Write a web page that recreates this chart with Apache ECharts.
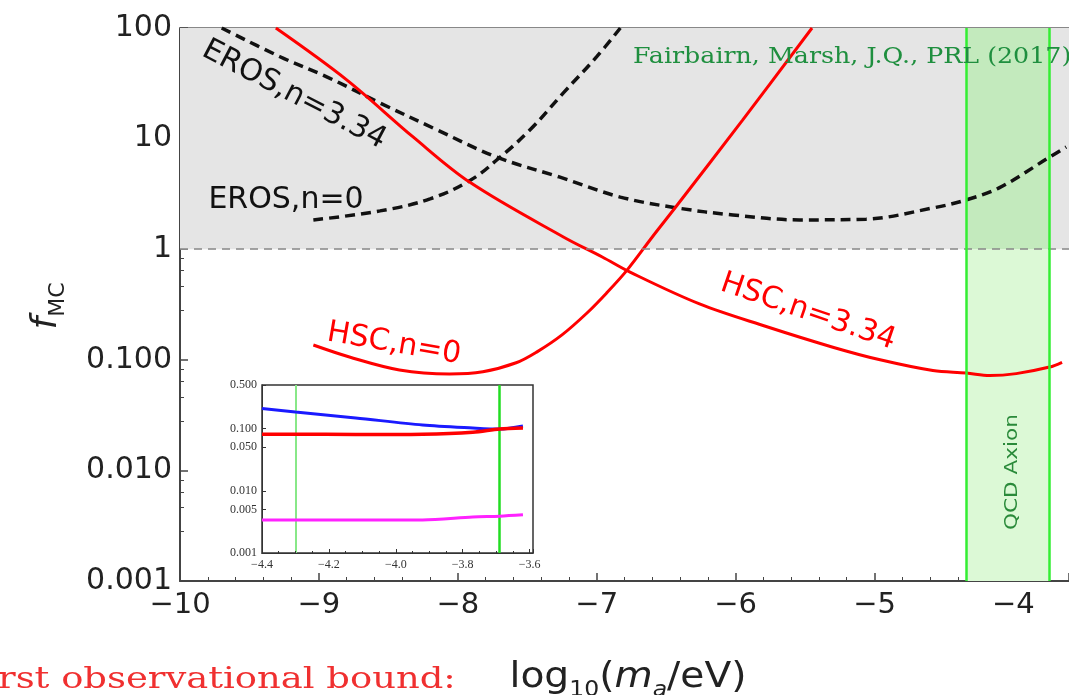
<!DOCTYPE html>
<html><head><meta charset="utf-8">
<script src="https://cdn.jsdelivr.net/npm/echarts@6/dist/echarts.min.js"></script>
<style>html,body{margin:0;padding:0;background:#fff}#c{width:1069px;height:695px}</style>
</head><body><div id="c"></div>
<script>
// ---- main panel data (log10 m_a [eV], f_MC) ----
const erosN334X = [-9.7, -9.28, -8.94, -8.56, -8.15, -7.72, -7.27, -6.83, -6.42, -6.02, -5.54, -5.06, -4.58, -4.34, -4.1, -3.74, -3.62];
const erosN334Y = [100, 55, 36, 21, 12, 6.8, 4.5, 2.96, 2.36, 2.04, 1.84, 1.87, 2.36, 2.79, 3.6, 6.8, 8.4];
const erosN0X = [-9.04, -8.56, -8.2, -7.91, -7.72, -7.48, -7.24, -7.0, -6.83];
const erosN0Y = [1.84, 2.22, 2.85, 4.2, 6.4, 12, 25.9, 55, 100];
const hscN334X = [-9.31, -8.8, -8.32, -7.91, -7.24, -6.96, -6.76, -6.26, -5.78, -5.3, -4.96, -4.58, -4.34, -4.17, -3.98, -3.74, -3.65];
const hscN334Y = [100, 34, 10.3, 4.0, 1.29, 0.85, 0.62, 0.32, 0.2, 0.13, 0.1, 0.08, 0.076, 0.072, 0.075, 0.086, 0.095];
const hscN0X = [-9.04, -8.78, -8.42, -8.06, -7.82, -7.58, -7.43, -7.25, -7.07, -6.93, -6.78, -6.6, -6.43, -5.95, -5.45];
const hscN0Y = [0.136, 0.106, 0.081, 0.0745, 0.078, 0.094, 0.118, 0.168, 0.265, 0.40, 0.65, 1.29, 2.42, 14.7, 100];
const qcdBand = [-4.34, -3.74];
const excludedRange = [1, 100];
// ---- inset data ----
const insetX = [-4.4, -4.3, -4.12, -3.92, -3.77, -3.69, -3.62];
const insetBlue = [0.21, 0.184, 0.148, 0.114, 0.102, 0.098, 0.11];
const insetRed = [0.081, 0.081, 0.08, 0.081, 0.087, 0.098, 0.102];
const insetMagenta = [0.0034, 0.0034, 0.0034, 0.0034, 0.0038, 0.0039, 0.0041];
const insetLines = [-4.3, -3.69];
const insetYTicks = [0.001, 0.005, 0.01, 0.05, 0.1, 0.5];

const zip = (xs, ys) => xs.map((x, i) => [x, ys[i]]);
const minus = v => (v < 0 ? '\u2212' + Math.abs(v) : String(v));
const fmtY = v => (v >= 1 ? String(Math.round(v)) : v.toFixed(3));

const chart = echarts.init(document.getElementById('c'), null, {renderer: 'canvas'});
const axisCol = '#444';
const labelFont = '30px "DejaVu Sans"';
const option = {
  animation: false,
  grid: [
    {left: 180, top: 28, width: 890, height: 553},
    {left: 262, top: 385, width: 271, height: 168, show: true, backgroundColor: '#fff', borderColor: '#333', borderWidth: 1.5, z: 5}
  ],
  xAxis: [
    {type: 'value', gridIndex: 0, min: -10, max: -3.6, interval: 1, position: 'bottom',
     axisLine: {lineStyle: {color: axisCol, width: 2}},
     axisTick: {inside: true, length: 8, lineStyle: {color: axisCol, width: 1.5}},
     minorTick: {show: true, splitNumber: 5, length: 4, lineStyle: {color: axisCol}},
     axisLabel: {showMaxLabel: false, formatter: minus, fontFamily: 'DejaVu Sans', fontSize: 29, color: '#222', margin: 10},
     splitLine: {show: false}},
    {type: 'value', gridIndex: 0, min: -10, max: -3.6, interval: 1, position: 'top',
     axisLine: {lineStyle: {color: '#888', width: 2}},
     axisTick: {inside: true, length: 6, lineStyle: {color: axisCol, width: 1.5}},
     minorTick: {show: true, splitNumber: 5, length: 4, lineStyle: {color: axisCol}},
     axisLabel: {show: false}, splitLine: {show: false}},
    {type: 'value', gridIndex: 1, min: -4.4, max: -3.59, interval: 0.2,
     axisLine: {lineStyle: {color: '#333'}},
     axisTick: {inside: true, length: 4, lineStyle: {color: '#333'}},
     minorTick: {show: true, splitNumber: 4, length: 2, lineStyle: {color: '#333'}},
     axisLabel: {showMaxLabel: false, hideOverlap: false, formatter: v => '\u2212' + Math.abs(v).toFixed(1), fontFamily: 'Liberation Serif', fontSize: 12, color: '#333', margin: 6},
     splitLine: {show: false}, z: 6}
  ],
  yAxis: [
    {type: 'log', gridIndex: 0, min: 0.001, max: 100, logBase: 10,
     axisLine: {show: true, lineStyle: {color: axisCol, width: 2}},
     axisTick: {inside: true, length: 8, lineStyle: {color: axisCol, width: 1.5}},
     minorTick: {show: true, splitNumber: 5, length: 4, lineStyle: {color: axisCol}},
     axisLabel: {formatter: fmtY, fontFamily: 'DejaVu Sans', fontSize: 30, color: '#222', margin: 8},
     splitLine: {show: false}},
    {type: 'log', gridIndex: 1, min: 0.001, max: 0.5, logBase: 10,
     axisLine: {show: true, lineStyle: {color: '#333'}},
     axisTick: {inside: true, length: 4, lineStyle: {color: '#333'}, customValues: insetYTicks},
     axisLabel: {formatter: fmtY, fontFamily: 'Liberation Serif', fontSize: 12, color: '#333', margin: 5, customValues: insetYTicks},
     splitLine: {show: false}, z: 6}
  ],
  series: [
    {type: 'line', name: 'bands', xAxisIndex: 0, yAxisIndex: 0, data: [], z: 1, silent: true,
     markArea: {silent: true, data: [
       [{xAxis: -10, yAxis: excludedRange[0], itemStyle: {color: '#e5e5e5'}}, {xAxis: -3.6, yAxis: excludedRange[1]}],
       [{xAxis: qcdBand[0], yAxis: excludedRange[0], itemStyle: {color: '#c3eabd'}}, {xAxis: qcdBand[1], yAxis: excludedRange[1]}],
       [{xAxis: qcdBand[0], yAxis: 0.001, itemStyle: {color: '#dcf9d6'}}, {xAxis: qcdBand[1], yAxis: excludedRange[0]}]
     ]},
     markLine: {silent: true, symbol: 'none', label: {show: false}, data: [
       {yAxis: 1, lineStyle: {color: '#888', type: [8, 6], width: 1.5}},
       {xAxis: qcdBand[0], lineStyle: {color: '#33ee33', type: 'solid', width: 2.5}},
       {xAxis: qcdBand[1], lineStyle: {color: '#33ee33', type: 'solid', width: 2.5}}
     ]}},
    {type: 'line', name: 'EROS,n=3.34', xAxisIndex: 0, yAxisIndex: 0, data: zip(erosN334X, erosN334Y), smooth: 0.35, showSymbol: false, z: 3,
     lineStyle: {color: '#111', width: 3.5, type: [10, 6]}},
    {type: 'line', name: 'EROS,n=0', xAxisIndex: 0, yAxisIndex: 0, data: zip(erosN0X, erosN0Y), smooth: 0.4, showSymbol: false, z: 3,
     lineStyle: {color: '#111', width: 3.5, type: [10, 6]}},
    {type: 'line', name: 'HSC,n=3.34', xAxisIndex: 0, yAxisIndex: 0, data: zip(hscN334X, hscN334Y), smooth: 0.35, showSymbol: false, z: 4,
     lineStyle: {color: '#ff0000', width: 3}},
    {type: 'line', name: 'HSC,n=0', xAxisIndex: 0, yAxisIndex: 0, data: zip(hscN0X, hscN0Y), smooth: 0.35, showSymbol: false, z: 4,
     lineStyle: {color: '#ff0000', width: 3}},
    // inset
    {type: 'line', name: 'insetGreen', xAxisIndex: 2, yAxisIndex: 1, data: [], z: 6, silent: true,
     markLine: {silent: true, symbol: 'none', label: {show: false}, data: [
       {xAxis: insetLines[0], lineStyle: {color: '#88e888', type: 'solid', width: 2}},
       {xAxis: insetLines[1], lineStyle: {color: '#22dd22', type: 'solid', width: 2.5}}
     ]}},
    {type: 'line', name: 'insetBlue', xAxisIndex: 2, yAxisIndex: 1, data: zip(insetX, insetBlue), smooth: 0.3, showSymbol: false, z: 7,
     lineStyle: {color: '#1a1aff', width: 3}},
    {type: 'line', name: 'insetRed', xAxisIndex: 2, yAxisIndex: 1, data: zip(insetX, insetRed), smooth: 0.3, showSymbol: false, z: 7,
     lineStyle: {color: '#ff0000', width: 3.5}},
    {type: 'line', name: 'insetMagenta', xAxisIndex: 2, yAxisIndex: 1, data: zip(insetX, insetMagenta), smooth: 0.3, showSymbol: false, z: 7,
     lineStyle: {color: '#ff22ff', width: 3}}
  ],
  graphic: [
    {type: 'text', x: 294, y: 95, rotation: -0.48, style: {text: 'EROS,n=3.34', font: labelFont, fill: '#111', align: 'center', verticalAlign: 'middle'}, z: 10},
    {type: 'text', x: 286, y: 200, style: {text: 'EROS,n=0', font: labelFont, fill: '#111', align: 'center', verticalAlign: 'middle'}, z: 10},
    {type: 'text', x: 394, y: 344, rotation: -0.17, style: {text: 'HSC,n=0', font: labelFont, fill: '#ff0000', align: 'center', verticalAlign: 'middle'}, z: 10},
    {type: 'text', x: 808, y: 312, rotation: -0.33, style: {text: 'HSC,n=3.34', font: labelFont, fill: '#ff0000', align: 'center', verticalAlign: 'middle'}, z: 10},
    {type: 'text', x: 633, y: 57, scaleX: 1.15, style: {text: 'Fairbairn, Marsh, J.Q., PRL (2017)', font: '22px "DejaVu Serif"', fill: '#1f8f3f', align: 'left', verticalAlign: 'middle'}, z: 10},
    {type: 'text', x: 1012, y: 472, rotation: Math.PI / 2, scaleX: 1.2, style: {text: 'QCD Axion', font: '18px "DejaVu Sans"', fill: '#2a8a3a', align: 'center', verticalAlign: 'middle'}, z: 10},
    {type: 'text', x: 47, y: 306, rotation: Math.PI / 2, style: {text: '{f|f}{s|MC}', align: 'center', verticalAlign: 'middle',
      rich: {f: {font: 'italic 36px "DejaVu Sans"', fill: '#222', lineHeight: 44, verticalAlign: 'middle'}, s: {font: '22px "DejaVu Sans"', fill: '#222', lineHeight: 22, verticalAlign: 'bottom'}}}, z: 10},
    {type: 'text', x: 628, y: 678, scaleX: 1.12, style: {text: '{t|log}{s|10}{t|(}{i|m}{si|a}{t|/eV)}', align: 'center', verticalAlign: 'middle',
      rich: {t: {font: '35px "DejaVu Sans"', fill: '#222', lineHeight: 46, verticalAlign: 'middle'},
             i: {font: 'italic 35px "DejaVu Sans"', fill: '#222', lineHeight: 46, verticalAlign: 'middle'},
             s: {font: '21px "DejaVu Sans"', fill: '#222', lineHeight: 21, verticalAlign: 'bottom'},
             si: {font: 'italic 21px "DejaVu Sans"', fill: '#222', lineHeight: 21, verticalAlign: 'bottom'}}}, z: 10},
    {type: 'text', x: -2, y: 680, scaleX: 1.23, style: {text: 'rst observational bound:', font: '30px "DejaVu Serif"', fill: '#f03030', align: 'left', verticalAlign: 'middle'}, z: 10}
  ]
};
chart.setOption(option);
</script>
</body></html>
